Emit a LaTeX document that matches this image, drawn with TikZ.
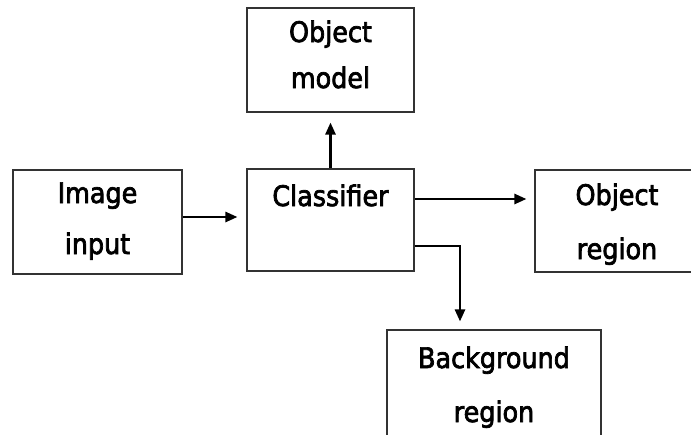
\documentclass[tikz,border=0pt]{standalone}
\usepackage{fontspec}
\newfontfamily\lblfont{DejaVu Sans Condensed}[FakeBold=2.5]
\usetikzlibrary{arrows.meta,calc}

\tikzset{
  box/.style={draw=black!80, line width=1.1pt, rectangle, inner sep=0pt},
  lbl/.style={anchor=base, inner sep=0pt, font=\lblfont\fontsize{28.3}{32}\selectfont},
  arr/.style={line width=2.5pt, -{Triangle[length=12pt,width=10pt]}}
}

\begin{document}
\begin{tikzpicture}[x=1pt, y=-1pt]
  \useasboundingbox (0,0) rectangle (691,434);
  \fill[white] (0,0) rectangle (691,434);
  \clip (0,0) rectangle (691,434);

  % blocks
  \node[box, minimum width=169pt, minimum height=104pt] (in) at (97.5,222) {};
  \node[box, minimum width=167pt, minimum height=102pt] (cl) at (330.5,220) {};
  \node[box, minimum width=167pt, minimum height=104pt] (om) at (330.5,60) {};
  \node[box, minimum width=165pt, minimum height=102pt] (or) at (617.5,221) {};
  \node[box, minimum width=214pt, minimum height=106pt] (bg) at (494,383) {};

  % labels
  \node[lbl] (inA) at (97.5,203) {Image};
  \node[lbl] (inB) at (97.5,254) {input};
  \node[lbl] (clA) at (330.5,206) {Classifier};
  \node[lbl] (omA) at (330.5,42) {Object};
  \node[lbl] (omB) at (330.5,88) {model};
  \node[lbl] (orA) at (617,205) {Object};
  \node[lbl] (orB) at (617,259) {region};
  \node[lbl] (bgA) at (494,368) {Background};
  \node[lbl] (bgB) at (494,422) {region};

  % connectors
  \draw[arr] ([yshift=5pt]in.east) -- ([yshift=3pt,xshift=-9pt]cl.west);
  \draw[arr] (cl.north) -- ([yshift=-10pt]om.south);
  \draw[arr] ([yshift=21pt]cl.east) -- ([yshift=22pt,xshift=-8pt]or.west);
  \draw[arr] ([yshift=-26pt]cl.east) -| ([xshift=-34pt,yshift=8pt]bg.north);
\end{tikzpicture}
\end{document}
